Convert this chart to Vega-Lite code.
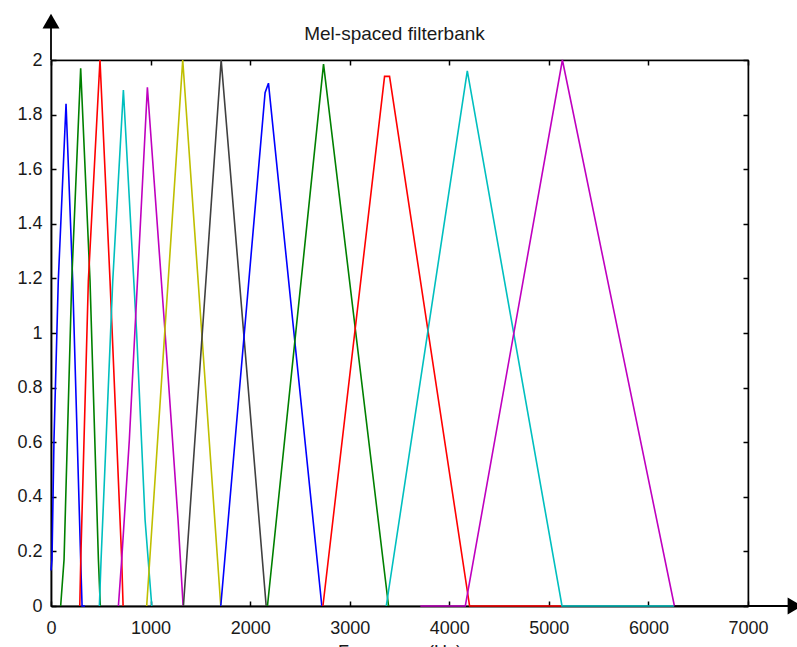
{
  "$schema": "https://vega.github.io/schema/vega-lite/v6.json",
  "width": 697,
  "height": 546,
  "autosize": {"type": "none"},
  "padding": {"left": 51, "top": 60, "right": 49, "bottom": 41},
  "background": "white",
  "config": {
    "font": "Liberation Sans",
    "view": {"stroke": "black", "strokeWidth": 1.2},
    "axis": {"grid": false, "domainColor": "black", "tickColor": "black", "labelColor": "#1a1a1a", "labelFont": "Liberation Sans", "titleFont": "Liberation Sans", "labelFontSize": 18, "titleFontSize": 18, "titleFontWeight": "normal", "titleColor": "#1a1a1a", "labelFlush": false}
  },
  "title": {"text": "Mel-spaced filterbank", "fontSize": 19, "fontWeight": "normal", "font": "Liberation Sans", "color": "#1a1a1a", "offset": 0, "dy": 30, "dx": -5},
  "datasets": {
    "filters": [
      {"f": 0, "v": 0.13, "s": "b1"}, {"f": 10, "v": 0.17, "s": "b1"}, {"f": 30, "v": 0.61, "s": "b1"}, {"f": 73, "v": 1.19, "s": "b1"}, {"f": 151, "v": 1.84, "s": "b1"}, {"f": 218, "v": 1.19, "s": "b1"}, {"f": 298, "v": 0.17, "s": "b1"}, {"f": 312, "v": 0, "s": "b1"}, {"f": 340, "v": 0, "s": "b1"},
      {"f": 97, "v": 0, "s": "g1"}, {"f": 131, "v": 0.17, "s": "g1"}, {"f": 208, "v": 1.19, "s": "g1"}, {"f": 298, "v": 1.97, "s": "g1"}, {"f": 392, "v": 1.19, "s": "g1"}, {"f": 476, "v": 0.17, "s": "g1"}, {"f": 495, "v": 0, "s": "g1"},
      {"f": 289, "v": 0, "s": "r1"}, {"f": 299, "v": 0.17, "s": "r1"}, {"f": 375, "v": 1.19, "s": "r1"}, {"f": 492, "v": 2.0, "s": "r1"}, {"f": 593, "v": 1.19, "s": "r1"}, {"f": 710, "v": 0.17, "s": "r1"}, {"f": 724, "v": 0, "s": "r1"},
      {"f": 486, "v": 0, "s": "c1"}, {"f": 503, "v": 0.17, "s": "c1"}, {"f": 620, "v": 1.19, "s": "c1"}, {"f": 727, "v": 1.89, "s": "c1"}, {"f": 860, "v": 1.0, "s": "c1"}, {"f": 945, "v": 0.315, "s": "c1"}, {"f": 1012, "v": 0, "s": "c1"},
      {"f": 677, "v": 0, "s": "m1"}, {"f": 710, "v": 0.17, "s": "m1"}, {"f": 787, "v": 0.61, "s": "m1"}, {"f": 968, "v": 1.9, "s": "m1"}, {"f": 1146, "v": 1.0, "s": "m1"}, {"f": 1276, "v": 0.315, "s": "m1"}, {"f": 1327, "v": 0, "s": "m1"},
      {"f": 961, "v": 0, "s": "y1"}, {"f": 1323, "v": 2.0, "s": "y1"}, {"f": 1705, "v": 0, "s": "y1"},
      {"f": 1330, "v": 0, "s": "k1"}, {"f": 1709, "v": 2.0, "s": "k1"}, {"f": 2161, "v": 0, "s": "k1"},
      {"f": 1705, "v": 0, "s": "b2"}, {"f": 2150, "v": 1.88, "s": "b2"}, {"f": 2184, "v": 1.915, "s": "b2"}, {"f": 2720, "v": 0, "s": "b2"},
      {"f": 2174, "v": 0, "s": "g2"}, {"f": 2737, "v": 1.985, "s": "g2"}, {"f": 3390, "v": 0, "s": "g2"},
      {"f": 2731, "v": 0, "s": "r2"}, {"f": 3350, "v": 1.94, "s": "r2"}, {"f": 3400, "v": 1.94, "s": "r2"}, {"f": 4204, "v": 0, "s": "r2"}, {"f": 5132, "v": 0, "s": "r2"},
      {"f": 3367, "v": 0, "s": "c2"}, {"f": 4181, "v": 1.96, "s": "c2"}, {"f": 5132, "v": 0, "s": "c2"}, {"f": 6261, "v": 0, "s": "c2"},
      {"f": 3709, "v": 0, "s": "m2"}, {"f": 4161, "v": 0, "s": "m2"}, {"f": 5136, "v": 2.0, "s": "m2"}, {"f": 6261, "v": 0, "s": "m2"},
      {"f": 6261, "v": 0, "s": "k2"}, {"f": 7000, "v": 0, "s": "k2"}
    ],
    "axisExt": [
      {"f": 0, "v": 2, "f2": 0, "v2": 2.125},
      {"f": 7000, "v": 0, "f2": 7430, "v2": 0}
    ],
    "arrowUp": [{"f": 0, "v": 2.142}],
    "arrowRight": [{"f": 7472, "v": 0}]
  },
  "layer": [
    {
      "data": {"name": "filters"},
      "mark": {"type": "line", "strokeWidth": 1.6, "clip": false},
      "encoding": {
        "x": {"field": "f", "type": "quantitative", "scale": {"domain": [0, 7000], "nice": false, "zero": false},
              "axis": {"orient": "bottom", "values": [0, 1000, 2000, 3000, 4000, 5000, 6000, 7000], "format": "d", "tickSize": -5, "tickWidth": 1.5, "domainWidth": 1.8, "labelPadding": 18, "title": "Frequency (Hz)", "titlePadding": 6}},
        "y": {"field": "v", "type": "quantitative", "scale": {"domain": [0, 2], "nice": false, "zero": false},
              "axis": {"orient": "left", "values": [0, 0.2, 0.4, 0.6, 0.8, 1, 1.2, 1.4, 1.6, 1.8, 2], "format": "~g", "tickSize": -5, "tickWidth": 1.5, "domainWidth": 1.8, "labelPadding": 14, "title": null}},
        "color": {"field": "s", "type": "nominal", "legend": null,
                  "scale": {"domain": ["b1", "g1", "r1", "c1", "m1", "y1", "k1", "b2", "g2", "r2", "c2", "m2", "k2"],
                            "range": ["#0000ff", "#008000", "#ff0000", "#00bfbf", "#bf00bf", "#bfbf00", "#404040", "#0000ff", "#008000", "#ff0000", "#00bfbf", "#bf00bf", "#000000"]}}
      }
    },
    {
      "data": {"name": "axisExt"},
      "mark": {"type": "rule", "color": "black", "strokeWidth": 1.8},
      "encoding": {
        "x": {"field": "f", "type": "quantitative", "axis": {"orient": "top", "values": [0, 1000, 2000, 3000, 4000, 5000, 6000, 7000], "labels": false, "tickSize": -5, "tickWidth": 1.5, "domainWidth": 1.5, "title": null}},
        "x2": {"field": "f2"},
        "y": {"field": "v", "type": "quantitative", "axis": {"orient": "right", "values": [0, 0.2, 0.4, 0.6, 0.8, 1, 1.2, 1.4, 1.6, 1.8, 2], "labels": false, "tickSize": -5, "tickWidth": 1.5, "domainWidth": 1.5, "title": null}},
        "y2": {"field": "v2"}
      }
    },
    {
      "data": {"name": "arrowUp"},
      "mark": {"type": "point", "shape": "triangle-up", "filled": true, "color": "black", "size": 289, "opacity": 1},
      "encoding": {
        "x": {"field": "f", "type": "quantitative", "axis": null},
        "y": {"field": "v", "type": "quantitative", "axis": null}
      }
    },
    {
      "data": {"name": "arrowRight"},
      "mark": {"type": "point", "shape": "triangle-right", "filled": true, "color": "black", "size": 289, "opacity": 1},
      "encoding": {
        "x": {"field": "f", "type": "quantitative", "axis": null},
        "y": {"field": "v", "type": "quantitative", "axis": null}
      }
    }
  ],
  "resolve": {"axis": {"x": "independent", "y": "independent"}}
}
